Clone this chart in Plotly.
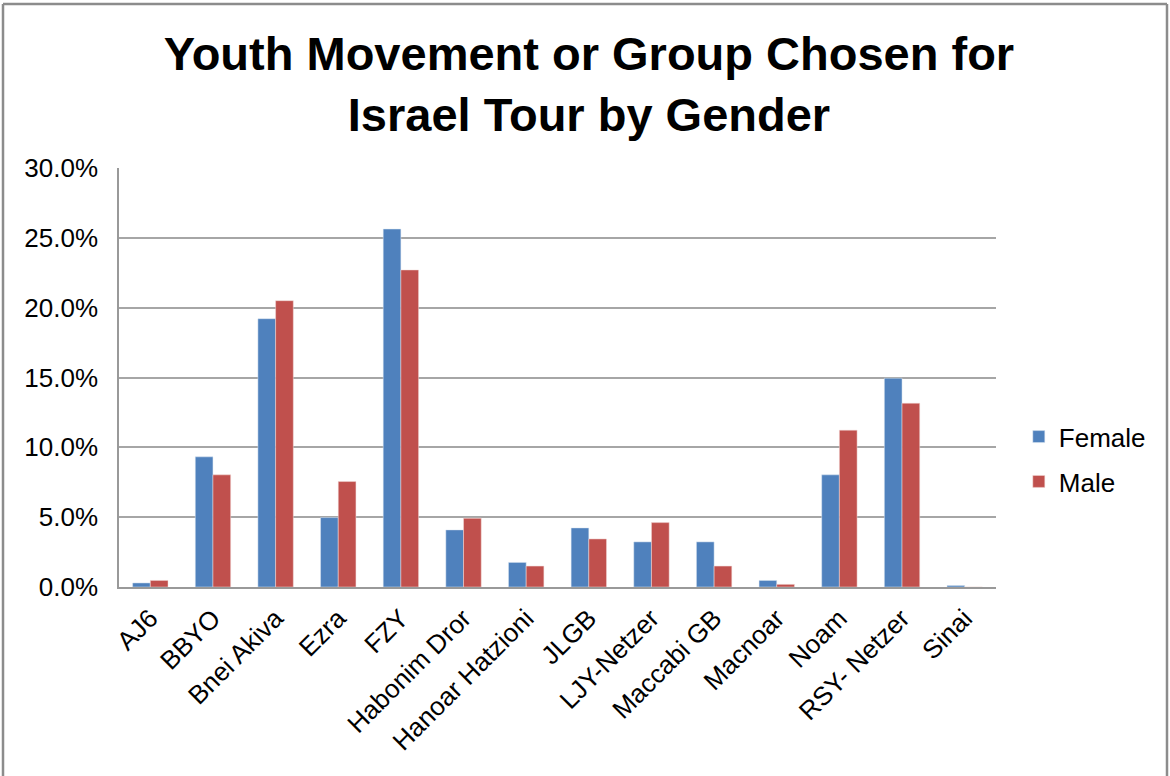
import plotly.graph_objects as go

categories = ["AJ6", "BBYO", "Bnei Akiva", "Ezra", "FZY", "Habonim Dror", "Hanoar Hatzioni",
              "JLGB", "LJY-Netzer", "Maccabi GB", "Macnoar", "Noam", "RSY- Netzer", "Sinai"]
female = [0.0029, 0.0932, 0.1921, 0.0497, 0.2563, 0.0409, 0.0176,
          0.0423, 0.0323, 0.0323, 0.0047, 0.0803, 0.1495, 0.0011]
male = [0.0047, 0.0803, 0.2050, 0.0755, 0.2270, 0.0492, 0.0150,
        0.0344, 0.0461, 0.0150, 0.0019, 0.1123, 0.1316, 0.0]

FONT = "Liberation Sans, Arial, sans-serif"

fig = go.Figure()
fig.add_trace(go.Bar(x=categories, y=female, name="Female", legendgroup="f",
                     marker=dict(color="#4F81BD", line=dict(color="#dfe8f3", width=0.5))))
fig.add_trace(go.Bar(x=categories, y=male, name="Male", legendgroup="m",
                     marker=dict(color="#C0504D", line=dict(color="#f2dcdb", width=0.5))))

fig.update_layout(
    width=1170, height=776,
    paper_bgcolor="white", plot_bgcolor="white",
    margin=dict(l=119, r=174, t=168, b=189),
    barmode="group", bargap=0.435, bargroupgap=0,
    font=dict(family=FONT, color="black"),
    title=dict(text="<b>Youth Movement or Group Chosen for<br>Israel Tour by Gender</b>",
               x=0.5034, xanchor="center", xref="container", y=0.91, yanchor="middle", yref="container",
               font=dict(family=FONT, size=47, color="black")),
    legend=dict(x=1.026, xanchor="left", y=0.305, yanchor="middle",
                font=dict(family=FONT, size=26, color="black"),
                itemwidth=30, tracegroupgap=8, bgcolor="rgba(0,0,0,0)"),
    showlegend=True,
)
fig.update_xaxes(showgrid=False, showline=True, linecolor="#999999", linewidth=1.5,
                 tickangle=-45, tickfont=dict(family=FONT, size=26, color="black"),
                 ticks="outside", ticklen=4, tickcolor="rgba(0,0,0,0)", mirror=False)
fig.update_yaxes(range=[0, 0.30], dtick=0.05, tickformat=".1%",
                 showgrid=True, gridcolor="#a6a6a6", gridwidth=1.5,
                 showline=True, linecolor="#999999", linewidth=1.5,
                 zeroline=False, ticks="outside", ticklen=14, tickcolor="rgba(0,0,0,0)",
                 tickfont=dict(family=FONT, size=26, color="black"))

# outer frame (left, top, right)
for x0, y0, x1, y1 in [(3, 4, 3, 776), (3, 4, 1167, 4), (1167, 4, 1167, 776)]:
    fig.add_shape(type="line", xref="paper", yref="paper",
                  x0=(x0 - 119) / 877, x1=(x1 - 119) / 877,
                  y0=(587 - y0) / 419, y1=(587 - y1) / 419,
                  line=dict(color="#8c8c8c", width=2.5))

fig.write_html("out.html")
